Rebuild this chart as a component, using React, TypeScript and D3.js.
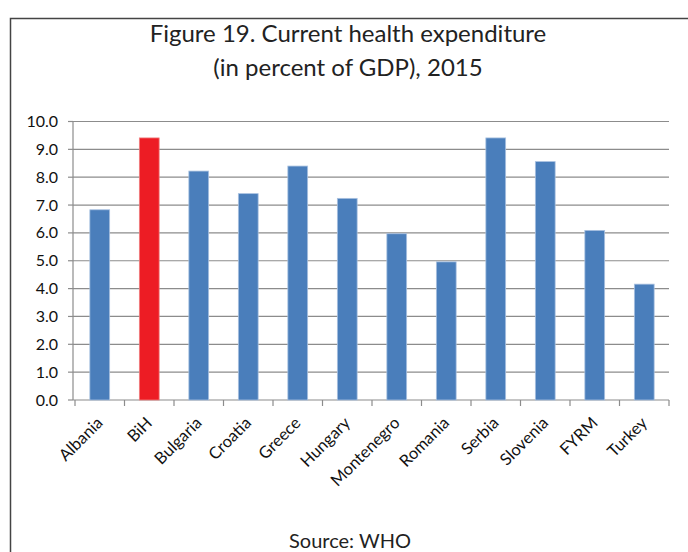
import React from "react";
import * as d3 from "d3";

const categories = ["Albania", "BiH", "Bulgaria", "Croatia", "Greece", "Hungary", "Montenegro", "Romania", "Serbia", "Slovenia", "FYRM", "Turkey"];
const values = [6.83, 9.41, 8.22, 7.41, 8.40, 7.24, 5.97, 4.96, 9.41, 8.56, 6.09, 4.16];
const highlight = ["BiH"];
const yTicks = [0, 1, 2, 3, 4, 5, 6, 7, 8, 9, 10];

const W = 688, H = 552;
const left = 75, right = 669, top = 121.5, bottom = 400;

export default function App() {
  const x = d3.scaleBand<string>().domain(categories).range([left, right]).paddingInner(0.6).paddingOuter(0.3);
  const y = d3.scaleLinear().domain([0, 10]).range([bottom, top]);
  const step = x.step();
  const boundaries = d3.range(categories.length + 1).map((i) => left + i * step);
  const font = "Lato, 'Open Sans', sans-serif";
  return (
    <svg width={W} height={H} style={{ position: "absolute", left: 0, top: 0, background: "#fff" }}>
      <rect x={10.5} y={18.5} width={720} height={600} fill="none" stroke="#444" strokeWidth={1.5} />
      <text x={348} y={42} textAnchor="middle" fontFamily={font} fontSize={24} fill="#222">Figure 19. Current health expenditure</text>
      <text x={348} y={76} textAnchor="middle" fontFamily={font} fontSize={24} fill="#222">(in percent of GDP), 2015</text>
      {yTicks.map((t) => (
        <g key={t}>
          <line x1={left - 2} x2={right} y1={y(t)} y2={y(t)} stroke="#8c8c8c" strokeWidth={1.2} />
          <line x1={left - 7} x2={left - 2} y1={y(t)} y2={y(t)} stroke="#8c8c8c" strokeWidth={1.2} />
          <text x={left - 17} y={y(t) + 5.5} textAnchor="end" fontFamily={font} fontSize={16} fill="#111">{t.toFixed(1)}</text>
        </g>
      ))}
      <line x1={left - 2} x2={left - 2} y1={top} y2={bottom} stroke="#8c8c8c" strokeWidth={1.2} />
      {boundaries.map((b, i) => (
        <line key={i} x1={b} x2={b} y1={bottom} y2={bottom + 6} stroke="#8c8c8c" strokeWidth={1.2} />
      ))}
      {categories.map((c, i) => (
        <rect key={c} x={x(c)} y={y(values[i])} width={x.bandwidth()} height={bottom - y(values[i])}
          fill={highlight.includes(c) ? "#ed1c24" : "#4a7ebb"} stroke={highlight.includes(c) ? "#f08080" : "#a9c1e0"} strokeWidth={0.8} />
      ))}
      {categories.map((c) => {
        const cx = (x(c) as number) + x.bandwidth() / 2;
        return (
          <text key={c} transform={`translate(${cx + 4},${bottom + 24}) rotate(-45)`} textAnchor="end" fontFamily={font} fontSize={16.5} fill="#111">{c}</text>
        );
      })}
      <text x={350} y={548} textAnchor="middle" fontFamily={font} fontSize={20} fill="#222">Source: WHO</text>
    </svg>
  );
}
